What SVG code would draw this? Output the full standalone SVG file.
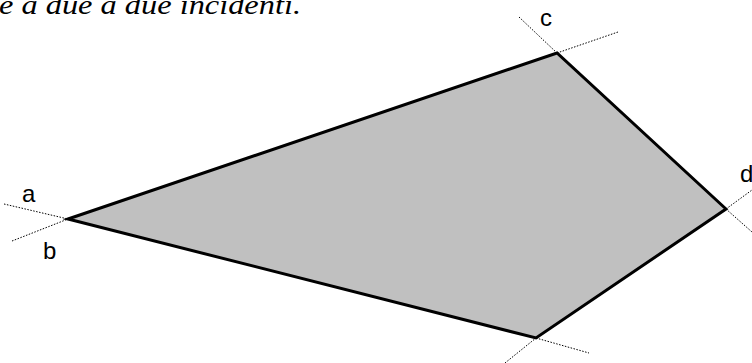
<svg xmlns="http://www.w3.org/2000/svg" width="752" height="363" viewBox="0 0 752 363">
<style>
.lbl{font-family:"Liberation Sans",Arial,sans-serif;font-size:24px;fill:#000}
.dot{stroke:#000;stroke-width:1;stroke-dasharray:1.5 1.5;fill:none}
.cap{font-family:"Liberation Serif","DejaVu Serif",serif;font-style:italic;font-size:28px;fill:#000}
</style>
<rect width="752" height="363" fill="#fff"/>
<text class="cap" x="-1" y="14" textLength="302" lengthAdjust="spacingAndGlyphs">e a due a due incidenti.</text>
<g id="polygon">
<polygon points="68,219 557,53 726,209 536,338" fill="#c0c0c0" stroke="#000" stroke-width="3" stroke-linejoin="miter"/>
</g>
<g id="connectors">
<line class="dot" x1="4" y1="204" x2="68" y2="219"/>
<line class="dot" x1="12" y1="241" x2="68" y2="219"/>
<line class="dot" x1="519" y1="17" x2="557" y2="53"/>
<line class="dot" x1="557" y1="53" x2="618" y2="32"/>
<line class="dot" x1="726" y1="209" x2="752" y2="190"/>
<line class="dot" x1="726" y1="209" x2="752" y2="232"/>
<line class="dot" x1="505" y1="363" x2="536" y2="338"/>
<line class="dot" x1="536" y1="338" x2="589" y2="353"/>
</g>
<g id="label-a"><text class="lbl" x="22" y="202">a</text></g>
<g id="label-b"><text class="lbl" x="43" y="259">b</text></g>
<g id="label-c"><text class="lbl" x="540" y="26">c</text></g>
<g id="label-d"><text class="lbl" x="740" y="182">d</text></g>
</svg>
